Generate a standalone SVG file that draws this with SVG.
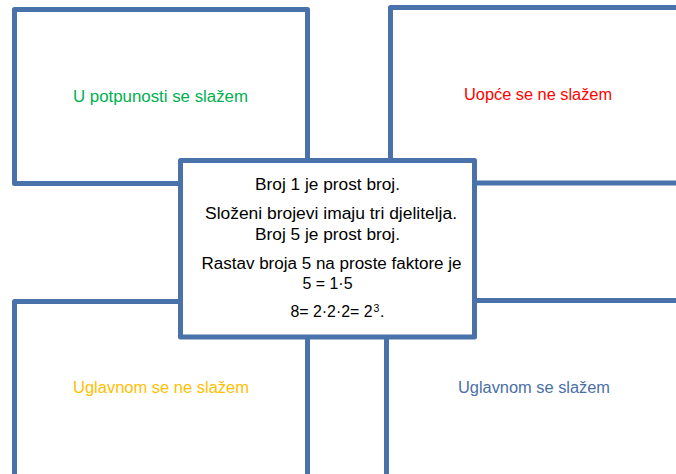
<svg xmlns="http://www.w3.org/2000/svg" width="676" height="474" viewBox="0 0 676 474">
<style>
.box{fill:#fff;stroke:#4a72aa;stroke-width:5;stroke-linejoin:round}
text{font-family:"Liberation Sans",Arial,sans-serif;font-size:16px}
.c{fill:#000;text-anchor:start}
</style>
<rect width="676" height="474" fill="#fff"/>
<g id="node-tl"><rect class="box" x="14.5" y="9.5" width="293" height="174"/>
<text x="73" y="102" fill="#00b050" textLength="175" lengthAdjust="spacingAndGlyphs">U potpunosti se slažem</text></g>
<g id="node-tr"><rect class="box" x="390.5" y="7.5" width="300" height="175.5"/>
<text x="464" y="100" fill="#ff0000" textLength="148" lengthAdjust="spacingAndGlyphs">Uopće se ne slažem</text></g>
<g id="node-bl"><rect class="box" x="14.5" y="301.5" width="293" height="190"/>
<text x="73" y="393" fill="#ffc000" textLength="176" lengthAdjust="spacingAndGlyphs">Uglavnom se ne slažem</text></g>
<g id="node-br"><rect class="box" x="386.5" y="300.5" width="300" height="190"/>
<text x="458" y="393" fill="#4a6fa5" textLength="152" lengthAdjust="spacingAndGlyphs">Uglavnom se slažem</text></g>
<g id="node-center"><rect class="box" x="180.5" y="160.5" width="294" height="176.5"/>
<text class="c" x="255" y="189.5" textLength="145" lengthAdjust="spacingAndGlyphs">Broj 1 je prost broj.</text>
<text class="c" x="205" y="219" textLength="252" lengthAdjust="spacingAndGlyphs">Složeni brojevi imaju tri djelitelja.</text>
<text class="c" x="255" y="240" textLength="145" lengthAdjust="spacingAndGlyphs">Broj 5 je prost broj.</text>
<text class="c" x="201.5" y="268.5" textLength="260" lengthAdjust="spacingAndGlyphs">Rastav broja 5 na proste faktore je</text>
<text class="c" x="302.5" y="288.5" textLength="50" lengthAdjust="spacingAndGlyphs">5 = 1·5</text>
<text class="c" x="290.5" y="316.5" textLength="82" lengthAdjust="spacingAndGlyphs">8= 2·2·2= 2</text>
<text class="c" x="373.5" y="311.5" style="font-size:10.5px">3</text>
<text class="c" x="380" y="316.5">.</text>
</g>
<g id="connectors"></g>
</svg>
